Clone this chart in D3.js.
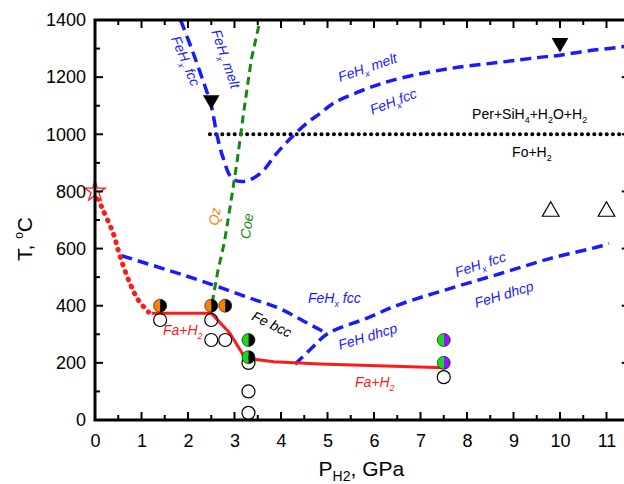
<!DOCTYPE html>
<html>
<head>
<meta charset="utf-8">
<script src="https://cdn.jsdelivr.net/npm/d3@7"></script>
<style>
body { margin: 0; background: #fff; overflow: hidden; }
text { font-family: "Liberation Sans", Arial, sans-serif; }
</style>
</head>
<body>
<script>
// tick values
var xTicks = [0, 1, 2, 3, 4, 5, 6, 7, 8, 9, 10, 11];
var yTicks = [0, 200, 400, 600, 800, 1000, 1200, 1400];

// phase boundaries (P in GPa, T in C)
var feMeltLine = [[1.84, 1400], [2.1, 1290], [2.35, 1175], [2.5, 1100], [2.62, 1000], [2.75, 920], [2.95, 845],
    [3.2, 835], [3.55, 862], [3.9, 932], [4.26, 995], [4.6, 1045], [4.85, 1074], [5.12, 1108], [5.85, 1160],
    [6.56, 1196], [7.63, 1230], [8.71, 1252], [9.5, 1268], [10.0, 1277], [10.65, 1293], [11.29, 1305], [11.5, 1310]];
var bccFccLine = [[0.57, 575], [1.5, 528], [2.5, 475], [3.3, 428], [4.0, 388], [4.5, 345], [5.0, 302]];
var dhcpLine = [[4.3, 195], [4.65, 250], [5.0, 302], [5.84, 356], [6.56, 405], [7.63, 460], [8.71, 512],
    [9.78, 565], [10.86, 608], [11.05, 618]];
var qzCoeLine = [[2.52, 410], [2.64, 520], [2.78, 620], [2.92, 760], [3.06, 910], [3.2, 1080], [3.36, 1260], [3.55, 1400]];
var foLine = [[2.47, 1000], [11.5, 1000]];
var faDotted = [[0, 800], [0.14, 747], [0.39, 654], [0.54, 572], [0.75, 479], [0.93, 420], [1.15, 378]];
var faSolid = [[1.22, 374], [2.5, 374], [2.9, 304], [3.23, 217], [3.55, 210], [3.85, 204], [4.84, 196], [7.5, 183]];

// experiments
var openCircles = [[1.4, 350], [2.5, 350], [2.5, 280], [2.8, 280], [3.3, 200], [3.3, 100], [3.3, 25], [7.5, 150]];
var orangeBlack = [[1.4, 400], [2.5, 400], [2.8, 400]];
var greenBlack = [[3.3, 280], [3.3, 220]];
var greenPurple = [[7.5, 280], [7.5, 200]];
var openTriangles = [[9.8, 730], [11.0, 730]];
var downTriangles = [[2.5, 1120], [10.0, 1320]];
var starPoints = [[0, 800]];

var margin = { top: 20, left: 95 };
var width = 534.75, height = 400;

var svg = d3.select("body").append("svg")
    .attr("width", 624)
    .attr("height", 484);

var g = svg.append("g")
    .attr("transform", "translate(" + margin.left + "," + margin.top + ")");

var x = d3.scaleLinear().domain([0, 11.5]).range([0, width]);
var y = d3.scaleLinear().domain([0, 1400]).range([height, 0]);

var line = d3.line()
    .x(function(d) { return x(d[0]); })
    .y(function(d) { return y(d[1]); })
    .curve(d3.curveMonotoneX);

var lineLin = d3.line()
    .x(function(d) { return x(d[0]); })
    .y(function(d) { return y(d[1]); });

var lineCR = d3.line()
    .x(function(d) { return x(d[0]); })
    .y(function(d) { return y(d[1]); })
    .curve(d3.curveCatmullRom);

var blue = "#1a1aff";

// lines
g.append("path").datum(foLine).attr("d", lineLin)
    .attr("fill", "none").attr("stroke", "#000").attr("stroke-width", 4)
    .attr("stroke-linecap", "round").attr("stroke-dasharray", "0.1,6.1");

g.append("path").datum(feMeltLine).attr("d", lineCR)
    .attr("fill", "none").attr("stroke", blue).attr("stroke-width", 3.5)
    .attr("stroke-dasharray", "11,6");

g.append("path").datum(bccFccLine).attr("d", line)
    .attr("fill", "none").attr("stroke", blue).attr("stroke-width", 3.5)
    .attr("stroke-dasharray", "11,6");

g.append("path").datum(dhcpLine).attr("d", lineCR)
    .attr("fill", "none").attr("stroke", blue).attr("stroke-width", 3.5)
    .attr("stroke-dasharray", "11,6");

g.append("path").datum(qzCoeLine).attr("d", lineLin)
    .attr("fill", "none").attr("stroke", "#118811").attr("stroke-width", 3)
    .attr("stroke-dasharray", "8,5");

g.append("path").datum(faDotted).attr("d", lineCR)
    .attr("fill", "none").attr("stroke", "#ff1a1a").attr("stroke-width", 5)
    .attr("stroke-linecap", "round").attr("stroke-dasharray", "0.8,7");

g.append("path").datum(faSolid).attr("d", lineLin)
    .attr("fill", "none").attr("stroke", "#ff1a1a").attr("stroke-width", 3);

// markers
var r = 6.5;
g.selectAll(".open").data(openCircles).enter().append("circle")
    .attr("cx", function(d) { return x(d[0]); })
    .attr("cy", function(d) { return y(d[1]); })
    .attr("r", r).attr("fill", "none").attr("stroke", "#000").attr("stroke-width", 1.2);

var rightHalf = d3.arc()({ innerRadius: 0, outerRadius: r, startAngle: 0, endAngle: Math.PI });
var leftHalf = d3.arc()({ innerRadius: 0, outerRadius: r, startAngle: Math.PI, endAngle: 2 * Math.PI });

function halfCircles(data, left, right) {
    var m = g.selectAll(null).data(data).enter().append("g")
        .attr("transform", function(d) { return "translate(" + x(d[0]) + "," + y(d[1]) + ")"; });
    m.append("path").attr("d", leftHalf).attr("fill", left);
    m.append("path").attr("d", rightHalf).attr("fill", right);
    m.append("circle").attr("r", r).attr("fill", "none").attr("stroke", "#000").attr("stroke-width", 0.6);
}
halfCircles(orangeBlack, "#ff8000", "#000");
halfCircles(greenBlack, "#11dd11", "#000");
halfCircles(greenPurple, "#11dd11", "#8a1aff");

var tri = d3.symbol().type(d3.symbolTriangle).size(120);
g.selectAll(null).data(openTriangles).enter().append("path")
    .attr("d", tri)
    .attr("transform", function(d) { return "translate(" + x(d[0]) + "," + y(d[1]) + ")"; })
    .attr("fill", "none").attr("stroke", "#000").attr("stroke-width", 1.2);

g.selectAll(null).data(downTriangles).enter().append("path")
    .attr("d", tri)
    .attr("transform", function(d) { return "translate(" + x(d[0]) + "," + y(d[1]) + ") rotate(180)"; })
    .attr("fill", "#000");

g.selectAll(null).data(starPoints).enter().append("path")
    .attr("d", d3.symbol().type(d3.symbolStar).size(130))
    .attr("transform", function(d) { return "translate(" + x(d[0]) + "," + y(d[1]) + ")"; })
    .attr("fill", "#fff").attr("stroke", "#ff1a1a").attr("stroke-width", 1.3);

// labels: [x, y, angle, colour, italic, parts]  parts: [text, sub?]
var labels = [
    [1.63, 1335, 67, blue, true, [["FeH"], ["x", 1], [" fcc"]]],
    [2.5, 1360, 71, blue, true, [["FeH"], ["x", 1], [" melt"]]],
    [5.27, 1183, -19, blue, true, [["FeH"], ["x", 1], [" melt"]]],
    [5.96, 1068, -21, blue, true, [["FeH"], ["x", 1], ["fcc"]]],
    [8.11, 1052, 0, "#000", false, [["Per+SiH"], ["4", 1], ["+H"], ["2", 1], ["O+H"], ["2", 1]]],
    [8.97, 920, 0, "#000", false, [["Fo+H"], ["2", 1]]],
    [2.65, 679, -82, "#ff8000", true, [["Qz"]]],
    [3.33, 632, -82, "#118811", true, [["Coe"]]],
    [3.35, 352, 26, "#000", true, [["Fe bcc"]]],
    [4.58, 410, 0, blue, true, [["FeH"], ["x", 1], [" fcc"]]],
    [5.27, 245, -17, blue, true, [["FeH dhcp"]]],
    [7.78, 500, -18, blue, true, [["FeH"], ["x", 1], [" fcc"]]],
    [8.2, 392, -17, blue, true, [["FeH dhcp"]]],
    [1.46, 297, 0, "#ff1a1a", true, [["Fa+H"], ["2", 1]]],
    [5.59, 115, 0, "#ff1a1a", true, [["Fa+H"], ["2", 1]]]
];

labels.forEach(function(l) {
    var t = g.append("text")
        .attr("transform", "translate(" + x(l[0]) + "," + y(l[1]) + ") rotate(" + l[2] + ")")
        .attr("fill", l[3])
        .style("font-size", "14px")
        .style("font-style", l[4] ? "italic" : "normal");
    var shifted = false;
    l[5].forEach(function(p) {
        var s = t.append("tspan").text(p[0]);
        if (p[1]) {
            s.attr("dy", 4).style("font-size", "9px");
            shifted = true;
        } else if (shifted) {
            s.attr("dy", -4);
            shifted = false;
        }
    });
});

// axes
var xAxisB = d3.axisBottom(x).tickValues(xTicks).tickSize(0).tickPadding(14);
var xa = g.append("g").attr("transform", "translate(0," + height + ")").call(xAxisB);
xa.select(".domain").remove();
xa.selectAll("text").style("font-size", "18px").attr("fill", "#000");

var yAxisL = d3.axisLeft(y).tickValues(yTicks).tickFormat(d3.format("d")).tickSize(0).tickPadding(9);
var ya = g.append("g").call(yAxisL);
ya.select(".domain").remove();
ya.selectAll("text").style("font-size", "18px").attr("fill", "#000");

// frame and ticks
var minorX = d3.range(0, 11.51, 0.5), minorY = d3.range(0, 1401, 100);
var tk = g.append("g").attr("stroke", "#000").attr("stroke-width", 2);
minorX.forEach(function(v) {
    var len = (v % 1 === 0) ? 8 : 5;
    tk.append("line").attr("x1", x(v)).attr("x2", x(v)).attr("y1", height).attr("y2", height - len);
    tk.append("line").attr("x1", x(v)).attr("x2", x(v)).attr("y1", 0).attr("y2", len);
});
minorY.forEach(function(v) {
    var len = (v % 200 === 0) ? 8 : 5;
    tk.append("line").attr("x1", 0).attr("x2", len).attr("y1", y(v)).attr("y2", y(v));
    tk.append("line").attr("x1", width).attr("x2", width - len).attr("y1", y(v)).attr("y2", y(v));
});
g.append("rect").attr("x", 0).attr("y", 0).attr("width", width).attr("height", height)
    .attr("fill", "none").attr("stroke", "#000").attr("stroke-width", 3);

// axis titles
var xt = svg.append("text")
    .attr("x", margin.left + width / 2 - 1).attr("y", 476)
    .attr("text-anchor", "middle").style("font-size", "21px");
xt.append("tspan").text("P");
xt.append("tspan").text("H2").attr("dy", 5).style("font-size", "14px");
xt.append("tspan").text(", GPa").attr("dy", -5);

var yt = svg.append("text")
    .attr("transform", "translate(32,239) rotate(-90)")
    .attr("text-anchor", "middle").style("font-size", "21px");
yt.append("tspan").text("T, ");
yt.append("tspan").text("o").attr("dy", -9).style("font-size", "12px");
yt.append("tspan").text("C").attr("dy", 9);
</script>
</body>
</html>
